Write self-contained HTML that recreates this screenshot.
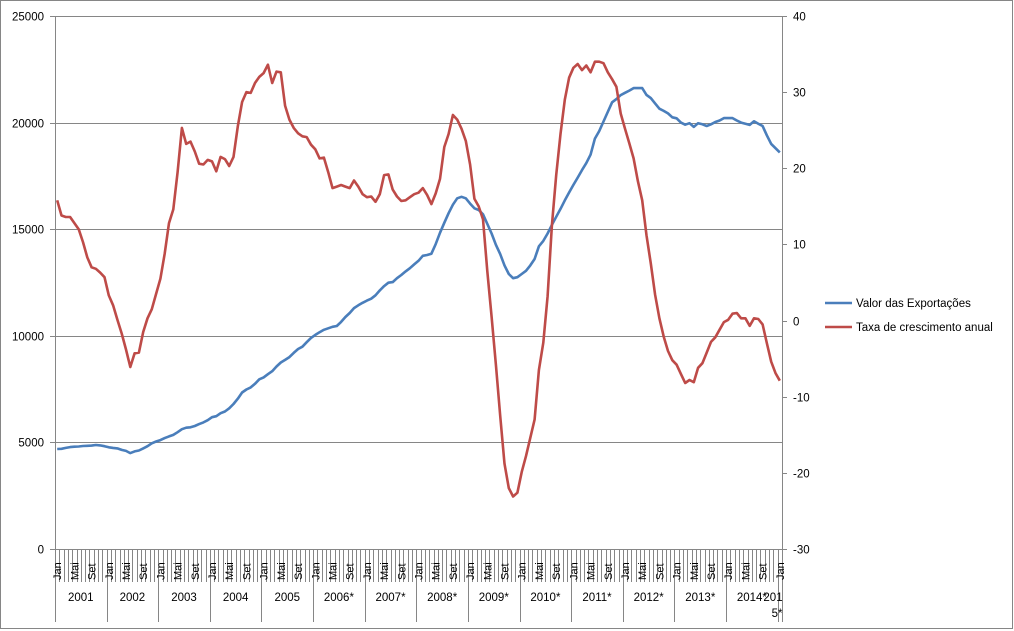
<!DOCTYPE html>
<html><head><meta charset="utf-8"><style>
html,body{margin:0;padding:0;background:#fff;}
svg{display:block;font-family:"Liberation Sans",Arial,sans-serif;}
</style></head><body>
<svg id="chart" width="1014" height="631" viewBox="0 0 1014 631" xmlns="http://www.w3.org/2000/svg">
<rect x="0.5" y="0.5" width="1012" height="628" fill="#fff" stroke="#868686"/>
<g id="grid"></g>
<g id="axes"></g>
<g id="series"></g>
<g id="legend">
  <g>
    <line x1="825" y1="303" x2="852" y2="303" stroke="#4a7ebb" stroke-width="2.5"/>
    <text x="856" y="307" font-size="11.5" fill="#000">Valor das Exportações</text>
  </g>
  <g>
    <line x1="825" y1="327" x2="852" y2="327" stroke="#be4b48" stroke-width="2.5"/>
    <text x="856" y="331" font-size="11.5" fill="#000">Taxa de crescimento anual</text>
  </g>
</g>
</svg>
<script>
const years = ["2001","2002","2003","2004","2005","2006*","2007*","2008*","2009*","2010*","2011*","2012*","2013*","2014*","2015*"];
const monthLabels = ["Jan","","","","Mai","","","","Set","","",""];
const leftTicks = [0,5000,10000,15000,20000,25000];
const rightTicks = [-30,-20,-10,0,10,20,30,40];
const exportsValues = [4690,4700,4740,4780,4800,4810,4830,4840,4850,4880,4860,4820,
4770,4740,4720,4650,4600,4500,4580,4620,4720,4820,4960,5040,
5110,5200,5280,5350,5480,5620,5690,5710,5770,5860,5940,6040,
6180,6230,6370,6450,6600,6800,7050,7340,7480,7580,7750,7960,
8050,8200,8340,8560,8750,8870,9000,9200,9380,9490,9700,9900,
10040,10170,10280,10350,10420,10460,10650,10880,11070,11300,11430,11550,
11650,11740,11900,12130,12330,12490,12520,12700,12850,13020,13170,13350,
13520,13750,13790,13850,14300,14830,15300,15750,16150,16450,16520,16450,
16200,15980,15900,15700,15250,14800,14270,13830,13300,12900,12700,12750,
12900,13050,13300,13600,14200,14450,14800,15200,15580,15950,16350,16720,
17080,17420,17770,18100,18500,19250,19600,20050,20500,20950,21100,21290,
21400,21500,21620,21620,21620,21300,21150,20900,20650,20550,20430,20250,
20200,20000,19900,19970,19800,19970,19920,19840,19920,20030,20100,20210,
20210,20210,20100,20000,19950,19890,20060,19950,19840,19400,19000,18800,
18600];
const growthValues = [15.8,13.8,13.6,13.6,12.8,12.0,10.3,8.3,7.0,6.8,6.3,5.7,
3.3,2.0,0.1,-1.7,-3.8,-6.1,-4.3,-4.2,-1.5,0.3,1.5,3.5,
5.5,8.8,12.8,14.6,19.5,25.3,23.2,23.5,22.2,20.6,20.5,21.1,
20.9,19.6,21.5,21.2,20.3,21.5,25.5,28.7,30.0,29.9,31.2,32.0,
32.5,33.6,31.2,32.7,32.6,28.2,26.4,25.3,24.6,24.2,24.1,23.1,
22.5,21.3,21.4,19.5,17.4,17.6,17.8,17.6,17.4,18.4,17.6,16.6,
16.2,16.3,15.6,16.6,19.1,19.2,17.2,16.3,15.7,15.8,16.2,16.6,
16.8,17.4,16.5,15.3,16.7,18.6,22.8,24.5,27.0,26.4,25.2,23.6,
20.5,16.0,15.0,13.3,6.5,0.5,-5.8,-12.5,-18.8,-22.0,-23.1,-22.6,
-19.9,-17.8,-15.4,-13.0,-6.5,-2.9,3.2,12.5,19.1,24.5,29.0,31.9,
33.2,33.7,32.9,33.5,32.6,34.0,34.0,33.8,32.6,31.7,30.7,27.2,
25.2,23.3,21.3,18.3,15.8,11.2,7.5,3.4,0.3,-2.1,-4.0,-5.2,
-5.8,-7.0,-8.2,-7.8,-8.1,-6.2,-5.6,-4.2,-2.8,-2.2,-1.2,-0.2,
0.1,0.9,1.0,0.3,0.3,-0.7,0.3,0.2,-0.5,-3.0,-5.4,-6.9,
-7.9];

const NS="http://www.w3.org/2000/svg";
const X0=55, X1=782, YT=16, YB=549;
const N=exportsValues.length;
const step=(X1-X0)/N;
function xPos(i){return X0+step*(i+0.5);}
function yLeft(v){return YB-(v-0)/(25000-0)*(YB-YT);}
function yRight(v){return YT+(40-v)/(70)*(YB-YT);}
function mk(tag,attrs,parent){const e=document.createElementNS(NS,tag);for(const k in attrs)e.setAttribute(k,attrs[k]);parent.appendChild(e);return e;}
const grid=document.getElementById('grid'), axes=document.getElementById('axes'), series=document.getElementById('series');

leftTicks.forEach(v=>{
  const y=Math.round(yLeft(v))+0.5;
  if(v>0){const g=mk('line',{x1:X0,x2:X1,y1:y,y2:y,stroke:'#868686','stroke-width':1},grid);
  
  }
  mk('line',{x1:X0-5,x2:X0,y1:y,y2:y,stroke:'#868686'},axes);
  const t=mk('text',{x:X0-11,y:y+4,'font-size':11.5,'text-anchor':'end',fill:'#000'},axes);
  t.textContent=v;
  
  
});
rightTicks.forEach(v=>{
  const y=Math.round(yRight(v))+0.5;
  mk('line',{x1:X1,x2:X1+5,y1:y,y2:y,stroke:'#868686'},axes);
  const t=mk('text',{x:X1+11,y:y+4,'font-size':11.5,'text-anchor':'start',fill:'#000'},axes);
  t.textContent=v;
  
  
});
mk('line',{x1:X0+0.5,x2:X0+0.5,y1:YT,y2:YB,stroke:'#868686'},axes);
mk('line',{x1:X1+0.5,x2:X1+0.5,y1:YT,y2:YB,stroke:'#868686'},axes);
mk('line',{x1:X0,x2:X1,y1:YB+0.5,y2:YB+0.5,stroke:'#868686'},axes);

for(let i=0;i<=N;i++){
  const x=Math.round(X0+step*i)+0.5;
  const isYear=(i%12===0)||i===N;
  mk('line',{x1:x,x2:x,y1:YB,y2:isYear?622:582,stroke:'#868686'},axes);
}
for(let i=0;i<N;i++){
  const lab=monthLabels[i%12];
  if(!lab)continue;
  const x=xPos(i)+4;
  const t=mk('text',{x:x,y:580,'font-size':11,fill:'#000',transform:'rotate(-90 '+x+' 580)'},axes);
  t.textContent=lab;
  
  
}
years.forEach((yr,k)=>{
  const a=X0+step*12*k, b=Math.min(X0+step*12*(k+1),X1);
  const t=mk('text',{x:(a+b)/2,y:601,'font-size':11.5,'text-anchor':'middle',fill:'#000'},axes);
  if(k===years.length-1){t.setAttribute('x',b-2);t.setAttribute('text-anchor','middle');
    const s1=mk('tspan',{x:b-9,y:601},t);s1.textContent='201';
    const s2=mk('tspan',{x:b-5,y:617},t);s2.textContent='5*';
  } else t.textContent=yr;
  
  
});

function path(vals,yf,color,name){
  const d=vals.map((v,i)=>(i?'L':'M')+xPos(i).toFixed(1)+' '+yf(v).toFixed(1)).join(' ');
  const p=mk('path',{d:d,fill:'none',stroke:color,'stroke-width':2.6,'stroke-linejoin':'round'},series);
  
  
}
path(exportsValues,yLeft,'#4a7ebb','exports-line');
path(growthValues,yRight,'#be4b48','growth-rate-line');
</script>
</body></html>
